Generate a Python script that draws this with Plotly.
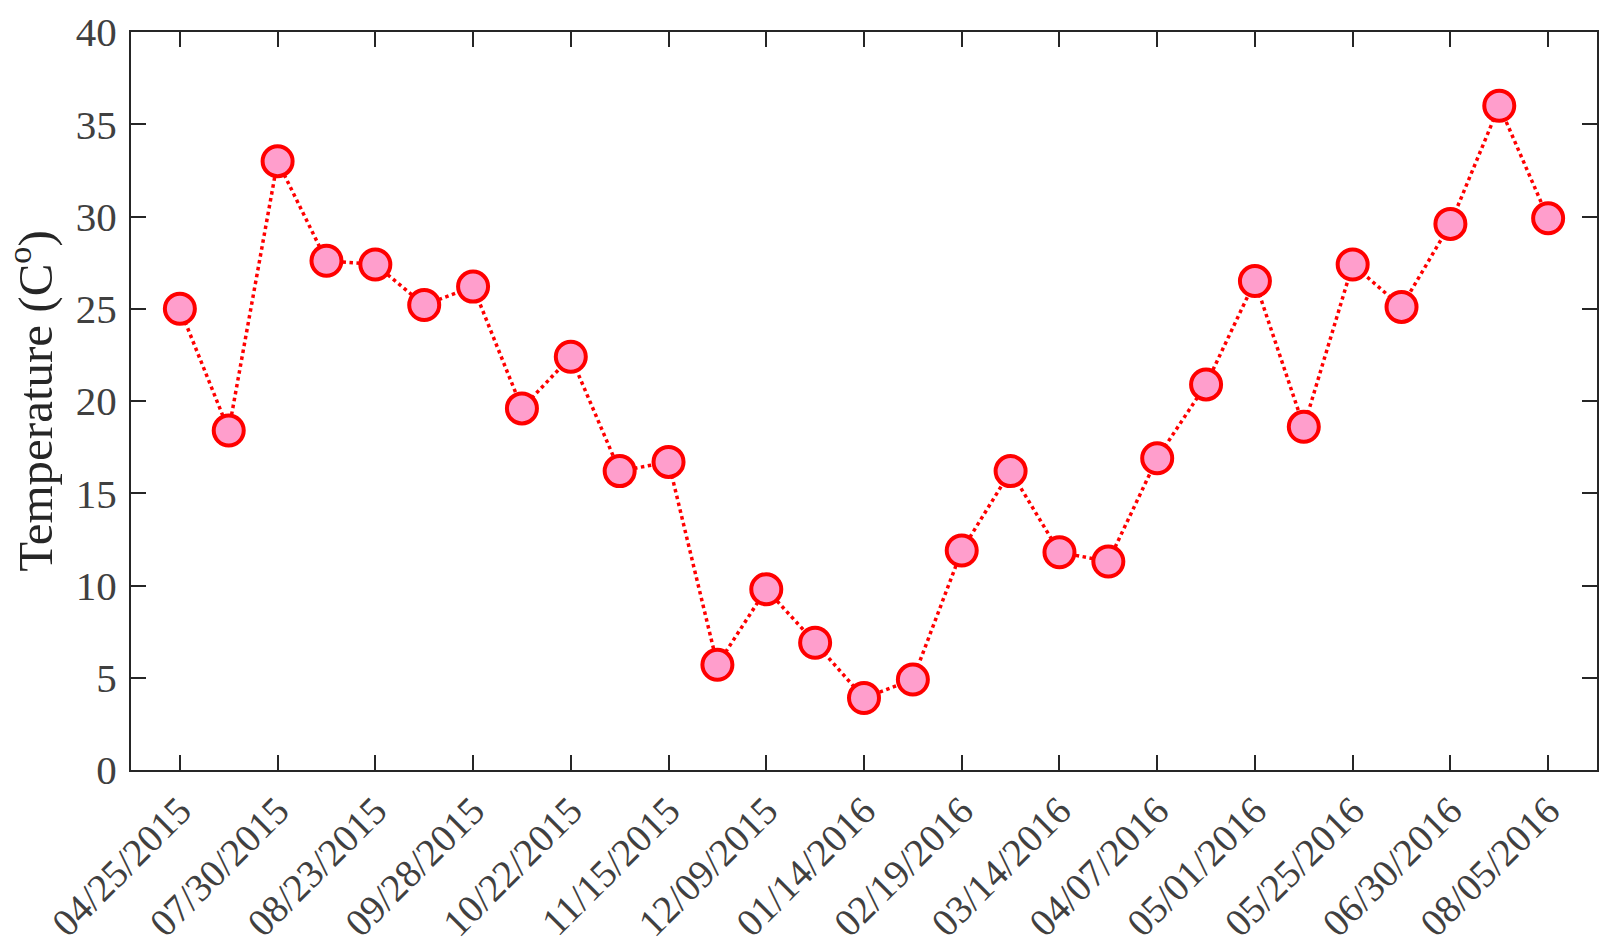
import plotly.graph_objects as go

point_index = list(range(1, 30))
temperature = [25.0, 18.4, 33.0, 27.6, 27.4, 25.2, 26.2, 19.6, 22.4, 16.2,
               16.7, 5.7, 9.8, 6.9, 3.9, 4.9, 11.9, 16.2, 11.8, 11.3,
               16.9, 20.9, 26.5, 18.6, 27.4, 25.1, 29.6, 36.0, 29.9]
tick_positions = list(range(1, 30, 2))
tick_labels = ["04/25/2015", "07/30/2015", "08/23/2015", "09/28/2015", "10/22/2015",
               "11/15/2015", "12/09/2015", "01/14/2016", "02/19/2016", "03/14/2016",
               "04/07/2016", "05/01/2016", "05/25/2016", "06/30/2016", "08/05/2016"]
y_ticks = [0, 5, 10, 15, 20, 25, 30, 35, 40]

FONT = "Liberation Serif"
fig = go.Figure()
fig.add_trace(go.Scatter(
    x=point_index, y=temperature, mode="lines+markers",
    line=dict(color="#ff0000", width=3.5, dash="dot"),
    marker=dict(size=30, color="#ff9ecc", line=dict(color="#ff0000", width=4)),
    showlegend=False,
))

axis_common = dict(
    showline=True, linecolor="#262626", linewidth=2, mirror="allticks",
    ticks="inside", ticklen=15, tickwidth=2, tickcolor="#262626",
    showgrid=False, zeroline=False, automargin=False,
)
fig.update_xaxes(range=[0, 30], tickmode="array", tickvals=tick_positions,
                 ticktext=tick_labels, tickangle=-45,
                 tickfont=dict(family=FONT, size=39, color="#404040"), **axis_common)
fig.update_yaxes(range=[0, 40], tickmode="array", tickvals=y_ticks,
                 tickfont=dict(family=FONT, size=41, color="#404040"),
                 ticklabelstandoff=4,
                 title=dict(text="Temperature (C<sup>o</sup>)",
                            font=dict(family=FONT, size=49, color="#262626"), standoff=14),
                 **axis_common)
fig.update_layout(
    width=1615, height=945,
    margin=dict(l=131, r=18, t=32, b=175),
    plot_bgcolor="white", paper_bgcolor="white",
    font=dict(family=FONT),
)
fig.write_html("out.html", config={"displayModeBar": False},
               post_script="document.body.style.margin='0';")
